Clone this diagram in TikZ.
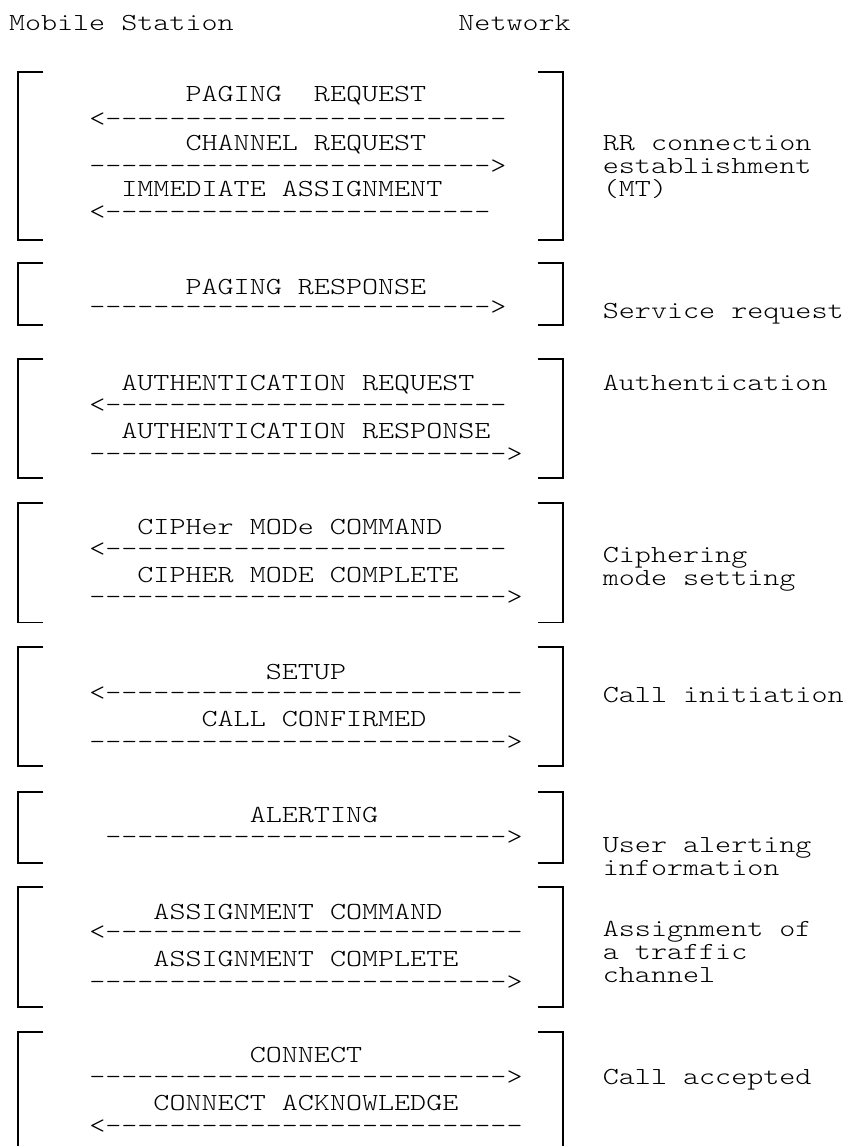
\documentclass[tikz,border=0pt]{standalone}
\usepackage{fontspec}
\usepackage{graphicx}
\ExplSyntaxOn
\cs_new:Npn \mydashes #1 { \prg_replicate:nn {#1} { -{} } }
\ExplSyntaxOff
\newcommand\cl[1]{9+#1*16.05}
\newlength\chw
\newcommand\monosz{\ttfamily\fontseries{l}\fontsize{24.5}{30}\selectfont}
\newcommand\mtx[1]{\scalebox{\xs}[1]{#1}}
\tikzset{
  txt/.style={inner sep=0pt,outer sep=0pt,anchor=base west,font=\monosz},
  brk/.style={line width=1.8pt,line join=miter,line cap=butt}
}
\begin{document}
\settowidth\chw{\monosz M}
\pgfmathsetmacro\xs{16.05/\chw}
\begin{tikzpicture}[x=1pt,y=-1pt]
\fill[white] (0,0) rectangle (845,1146);
\useasboundingbox (0,0) rectangle (845,1146);
% header
\node[txt] (ms) at ({\cl{0}},30) {\mtx{Mobile Station}};
\node[txt] (nw) at ({\cl{28}},30) {\mtx{Network}};
% brackets
\foreach \t/\b in {71.7/240, 263.3/325, 359.3/478.3, 503.3/622.5, 647.3/766, 791.7/863.3, 886.7/1006.7}{
  \draw[brk] (43.3,\t) -- (18.3,\t) -- (18.3,\b) -- (43.3,\b);
  \draw[brk] (538,\t) -- (562.7,\t) -- (562.7,\b) -- (538,\b);
}
\draw[brk] (43.3,1031.7) -- (18.3,1031.7) -- (18.3,1150);
\draw[brk] (538,1031.7) -- (562.7,1031.7) -- (562.7,1150);
% box 1
\node[txt] (m1) at ({\cl{11}},101.7) {\mtx{PAGING\ \ REQUEST}};
\node[txt] (a1) at ({\cl{5}},126.5) {\mtx{<\mydashes{25}}};
\node[txt] (m2) at ({\cl{11}},150) {\mtx{CHANNEL REQUEST}};
\node[txt] (a2) at ({\cl{5}},173.2) {\mtx{\mydashes{25}>}};
\node[txt] (m3) at ({\cl{7}},196.7) {\mtx{IMMEDIATE ASSIGNMENT}};
\node[txt] (a3) at ({\cl{5}},219.8) {\mtx{<\mydashes{24}}};
% box 2
\node[txt] (m4) at ({\cl{11}},294) {\mtx{PAGING RESPONSE}};
\node[txt] (a4) at ({\cl{5}},314.8) {\mtx{\mydashes{25}>}};
% box 3
\node[txt] (m5) at ({\cl{7}},390) {\mtx{AUTHENTICATION REQUEST}};
\node[txt] (a5) at ({\cl{5}},412.5) {\mtx{<\mydashes{25}}};
\node[txt] (m6) at ({\cl{7}},438.3) {\mtx{AUTHENTICATION RESPONSE}};
\node[txt] (a6) at ({\cl{5}},461.5) {\mtx{\mydashes{26}>}};
% box 4
\node[txt] (m7) at ({\cl{8}},534.3) {\mtx{CIPHer MODe COMMAND}};
\node[txt] (a7) at ({\cl{5}},556.5) {\mtx{<\mydashes{25}}};
\node[txt] (m8) at ({\cl{8}},582.3) {\mtx{CIPHER MODE COMPLETE}};
\node[txt] (a8) at ({\cl{5}},604.8) {\mtx{\mydashes{26}>}};
% box 5
\node[txt] (m9) at ({\cl{16}},679.3) {\mtx{SETUP}};
\node[txt] (a9) at ({\cl{5}},700.5) {\mtx{<\mydashes{26}}};
\node[txt] (m10) at ({\cl{12}},726.7) {\mtx{CALL CONFIRMED}};
\node[txt] (a10) at ({\cl{5}},749.2) {\mtx{\mydashes{26}>}};
% box 6
\node[txt] (m11) at ({\cl{15}},822.3) {\mtx{ALERTING}};
\node[txt] (a11) at ({\cl{6}},844.8) {\mtx{\mydashes{25}>}};
% box 7
\node[txt] (m12) at ({\cl{9}},919) {\mtx{ASSIGNMENT COMMAND}};
\node[txt] (a12) at ({\cl{5}},939.8) {\mtx{<\mydashes{26}}};
\node[txt] (m13) at ({\cl{9}},966.7) {\mtx{ASSIGNMENT COMPLETE}};
\node[txt] (a13) at ({\cl{5}},989.2) {\mtx{\mydashes{26}>}};
% box 8
\node[txt] (m14) at ({\cl{15}},1062.7) {\mtx{CONNECT}};
\node[txt] (a14) at ({\cl{5}},1084.8) {\mtx{\mydashes{26}>}};
\node[txt] (m15) at ({\cl{9}},1110) {\mtx{CONNECT ACKNOWLEDGE}};
\node[txt] (a15) at ({\cl{5}},1133.2) {\mtx{<\mydashes{26}}};
% labels
\node[txt] (l1a) at ({\cl{37}},150) {\mtx{RR connection}};
\node[txt] (l1b) at ({\cl{37}},173.3) {\mtx{establishment}};
\node[txt] (l1c) at ({\cl{37}},196.7) {\mtx{(MT)}};
\node[txt] (l2) at ({\cl{37}},318.3) {\mtx{Service request}};
\node[txt] (l3) at ({\cl{37}},390) {\mtx{Authentication}};
\node[txt] (l4a) at ({\cl{37}},562) {\mtx{Ciphering}};
\node[txt] (l4b) at ({\cl{37}},585.3) {\mtx{mode setting}};
\node[txt] (l5) at ({\cl{37}},702) {\mtx{Call initiation}};
\node[txt] (l6a) at ({\cl{37}},852) {\mtx{User alerting}};
\node[txt] (l6b) at ({\cl{37}},875.3) {\mtx{information}};
\node[txt] (l7a) at ({\cl{37}},936) {\mtx{Assignment of}};
\node[txt] (l7b) at ({\cl{37}},959.3) {\mtx{a traffic}};
\node[txt] (l7c) at ({\cl{37}},982.6) {\mtx{channel}};
\node[txt] (l8) at ({\cl{37}},1084) {\mtx{Call accepted}};
\end{tikzpicture}
\end{document}
